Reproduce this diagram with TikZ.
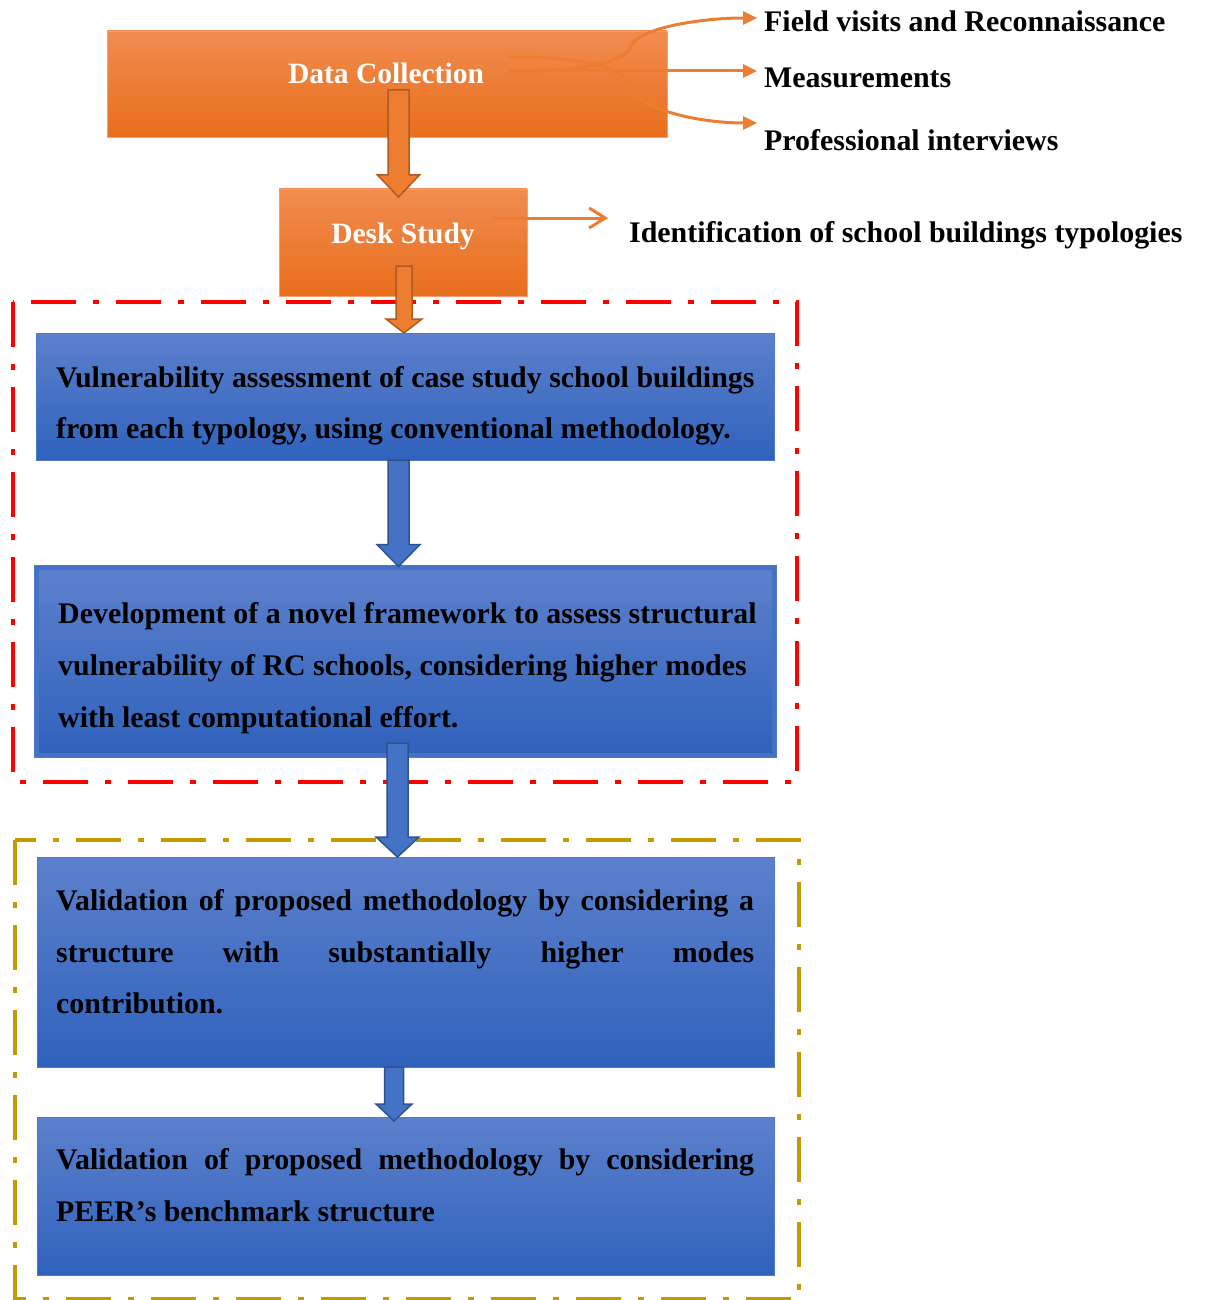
\documentclass[tikz,border=0pt]{standalone}
\usepackage{fontspec}
\setmainfont{Liberation Serif}
\usetikzlibrary{arrows.meta,calc}
\definecolor{otop}{RGB}{241,140,80}
\definecolor{obot}{RGB}{232,110,28}
\definecolor{oedge}{RGB}{245,160,110}
\definecolor{oline}{RGB}{237,125,49}
\definecolor{odark}{RGB}{174,90,33}
\definecolor{btop}{RGB}{92,128,204}
\definecolor{bbot}{RGB}{48,98,188}
\definecolor{bedge}{RGB}{78,120,205}
\definecolor{bfill}{RGB}{68,114,196}
\definecolor{bdark}{RGB}{47,82,143}
\definecolor{gold}{RGB}{196,154,0}
\newcommand{\blockarr}[8]{% from, to, fill, draw, shaft half, head half, head length, unused
  \draw[fill=#3,draw=#4,line width=1.5pt,line join=miter]
    let \p1=#1, \p2=#2 in
    (\x1-#5pt,\y1) -- (\x1-#5pt,\y2+#7pt) -- (\x1-#6pt,\y2+#7pt) -- (\x2,\y2)
    -- (\x1+#6pt,\y2+#7pt) -- (\x1+#5pt,\y2+#7pt) -- (\x1+#5pt,\y1) -- cycle;}
\begin{document}
\begin{tikzpicture}[x=1pt,y=-1pt,
  txt/.style={font=\fontsize{29.9}{52}\selectfont\bfseries, inner sep=0pt, anchor=base west},
  wtxt/.style={font=\fontsize{29.5}{36}\selectfont\bfseries, inner sep=0pt, anchor=base, text=white},
  obox/.style={rectangle, draw=oedge, line width=0.8pt, top color=otop, bottom color=obot, inner sep=0pt, outer sep=0pt},
  bbox/.style={rectangle, draw=bedge, line width=1pt, top color=btop, bottom color=bbot, inner sep=0pt, outer sep=0pt},
  thin/.style={draw=oline, line width=3pt, -{Triangle[length=14pt,width=13pt]}},
  redframe/.style={draw=red, line width=4.5pt, dash pattern=on 45pt off 17pt on 6pt off 17pt},
  goldframe/.style={draw=gold, line width=4.5pt, dash pattern=on 45pt off 17pt on 6pt off 17pt}
]
\useasboundingbox (0,0) rectangle (1204,1300);
\fill[white] (0,0) rectangle (1204,1300);

% frames
\draw[redframe] (13,302) rectangle (797,782);
\draw[goldframe] (15,840) rectangle (799,1299);

% orange boxes
\node[obox, minimum width=560pt, minimum height=106pt] (dc) at (387,84) {};
\node[obox, minimum width=248pt, minimum height=107pt] (ds) at (403,242.5) {};
\node[wtxt] (dct) at (386,84) {Data Collection};
\node[wtxt] (dst) at (403,243) {Desk Study};

% blue boxes
\node[bbox, minimum width=738pt, minimum height=127pt] (b1) at (405,396.5) {};
\node[rectangle, fill=bfill, draw=bedge, line width=1pt, minimum width=742pt, minimum height=192pt, inner sep=0pt] (b2) at (405,661) {};
\fill[top color=btop, bottom color=bbot] ($(b2.north west)+(6,6)$) rectangle ($(b2.south east)+(-5,-5)$);
\node[bbox, minimum width=737pt, minimum height=210pt] (b3) at (405.5,962) {};
\node[bbox, minimum width=737pt, minimum height=158pt] (b4) at (405.5,1196) {};

% box texts
\node[txt] (t1a) at (56,387) {Vulnerability assessment of case study school buildings};
\node[txt] (t1b) at (56,438) {from each typology, using conventional methodology.};
\node[txt] (t2a) at (58,623) {Development of a novel framework to assess structural};
\node[txt] (t2b) at (58,675) {vulnerability of RC schools, considering higher modes};
\node[txt] (t2c) at (58,727) {with least computational effort.};
\node[txt] (t3a) at (56,910) {\makebox[698pt][s]{Validation of proposed methodology by considering a}};
\node[txt] (t3b) at (56,962) {\makebox[698pt][s]{structure with substantially higher modes}};
\node[txt] (t3c) at (56,1013) {contribution.};
\node[txt] (t4a) at (56,1169) {\makebox[698pt][s]{Validation of proposed methodology by considering}};
\node[txt] (t4b) at (56,1221) {PEER’s benchmark structure};

% right side texts
\node[txt] (f1) at (764,32) {Field visits and Reconnaissance};
\node[txt] (f2) at (764,88) {Measurements};
\node[txt] (f3) at (764,151) {Professional interviews};
\node[txt] (f4) at (629,242) {Identification of school buildings typologies};

% thin orange connectors
\coordinate (s1) at (508,71);
\coordinate (s2) at (508,57);
\coordinate (d1) at (493,218);
\coordinate (e1) at ($(f1.west |- 0,18)+(-7,0)$);
\coordinate (e2) at ($(f2.west |- 0,71)+(-7,0)$);
\coordinate (e3) at ($(f3.west |- 0,123)+(-7,0)$);
\coordinate (e4) at ($(f4.west |- d1)+(-21,0)$);
\draw[thin] (s1) .. controls (590,71) and (625,62) .. (632,45) .. controls (640,28) and (700,18) .. (e1);
\draw[thin] (s1) -- (e2);
\draw[thin] (s2) .. controls (590,57) and (625,68) .. (632,88) .. controls (640,110) and (700,123) .. (e3);
\draw[draw=oline, line width=3pt, -{Straight Barb[length=16pt,width=20pt,line width=3pt]}] (d1) -- (e4);

% block arrows
\coordinate (a1s) at (398.5,90);
\coordinate (a2s) at (404,266);
\coordinate (a3s) at (398.5,460);
\coordinate (a4s) at (397.5,743);
\coordinate (a5s) at (394,1067);
\blockarr{(a1s)}{($(a1s |- ds.north)+(0,8)$)}{oline}{odark}{10.5}{21}{22}{}
\blockarr{(a2s)}{($(a2s |- b1.north)$)}{oline}{odark}{8}{18}{14}{}
\blockarr{(a3s)}{($(a3s |- b2.north)+(0,2)$)}{bfill}{bdark}{10.5}{21.5}{22}{}
\blockarr{(a4s)}{($(a4s |- b3.north)$)}{bfill}{bdark}{10.5}{21.5}{20}{}
\blockarr{(a5s)}{($(a5s |- b4.north)+(0,4)$)}{bfill}{bdark}{9.5}{18}{17}{}
\end{tikzpicture}
\end{document}
